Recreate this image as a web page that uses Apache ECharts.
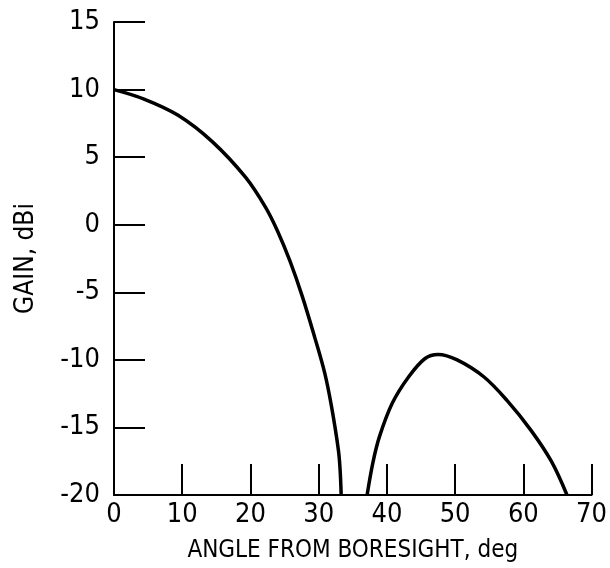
<!DOCTYPE html>
<html>
<head>
<meta charset="utf-8">
<script src="https://cdn.jsdelivr.net/npm/echarts@6/dist/echarts.min.js"></script>
<style>
  html, body { margin: 0; padding: 0; background: #fff; }
  #chart { width: 610px; height: 568px; }
</style>
</head>
<body>
<div id="chart"></div>
<script>
// Main lobe (angle deg, gain dBi)
const mainAngle = [0, 4.4, 9.4, 14.4, 19.3, 22.2, 24.0, 25.8, 27.6, 29.4, 30.9, 31.9, 32.9, 33.15, 33.3]
const mainGain = [10, 9.3, 8.1, 6.15, 3.5, 1.3, -0.5, -2.7, -5.3, -8.3, -11.0, -13.5, -16.7, -18.2, -20]

// First side lobe
const sideAngle = [37.1, 37.95, 38.9, 40.8, 43.2, 45.6, 47.5, 50.3, 54.2, 57.6, 61.1, 64.1, 66.4]
const sideGain = [-20, -17.6, -15.7, -13.2, -11.25, -9.9, -9.6, -10.0, -11.25, -13.0, -15.2, -17.5, -20]

const font = "'Liberation Sans Narrow', 'DejaVu Sans Condensed', sans-serif"

const pairs = (xs, ys) => xs.map((x, i) => [x, ys[i]])

const chart = echarts.init(document.getElementById('chart'))

const axisCommon = {
  type: 'value',
  splitLine: { show: false },
  axisLine: { show: true, onZero: false, lineStyle: { color: '#000', width: 2 } },
  axisTick: { show: true, inside: true, length: 31, lineStyle: { color: '#000', width: 2 } },
  axisLabel: { color: '#000', fontSize: 27, fontFamily: font },
  nameLocation: 'middle',
  nameTextStyle: { color: '#000', fontSize: 25, fontFamily: font }
}

const lineSeries = (xs, ys) => ({
  type: 'line',
  data: pairs(xs, ys),
  smooth: 0.35,
  symbol: 'none',
  clip: true,
  lineStyle: { color: '#000', width: 3.5 }
})

chart.setOption({
  animation: false,
  grid: { left: 114, right: 16, top: 22, bottom: 73 },
  xAxis: {
    ...axisCommon,
    min: 0,
    max: 70,
    interval: 10,
    name: 'ANGLE FROM BORESIGHT, deg',
    nameGap: 44,
    nameTextStyle: { ...axisCommon.nameTextStyle, fontSize: 24 },
    axisLabel: { ...axisCommon.axisLabel, margin: 6 }
  },
  yAxis: {
    ...axisCommon,
    min: -20,
    max: 15,
    interval: 5,
    name: 'GAIN, dBi',
    nameGap: 75,
    nameTextStyle: { ...axisCommon.nameTextStyle, fontSize: 26 },
    axisLabel: { ...axisCommon.axisLabel, margin: 14 }
  },
  series: [
    lineSeries(mainAngle, mainGain),
    lineSeries(sideAngle, sideGain)
  ]
})
</script>
</body>
</html>
